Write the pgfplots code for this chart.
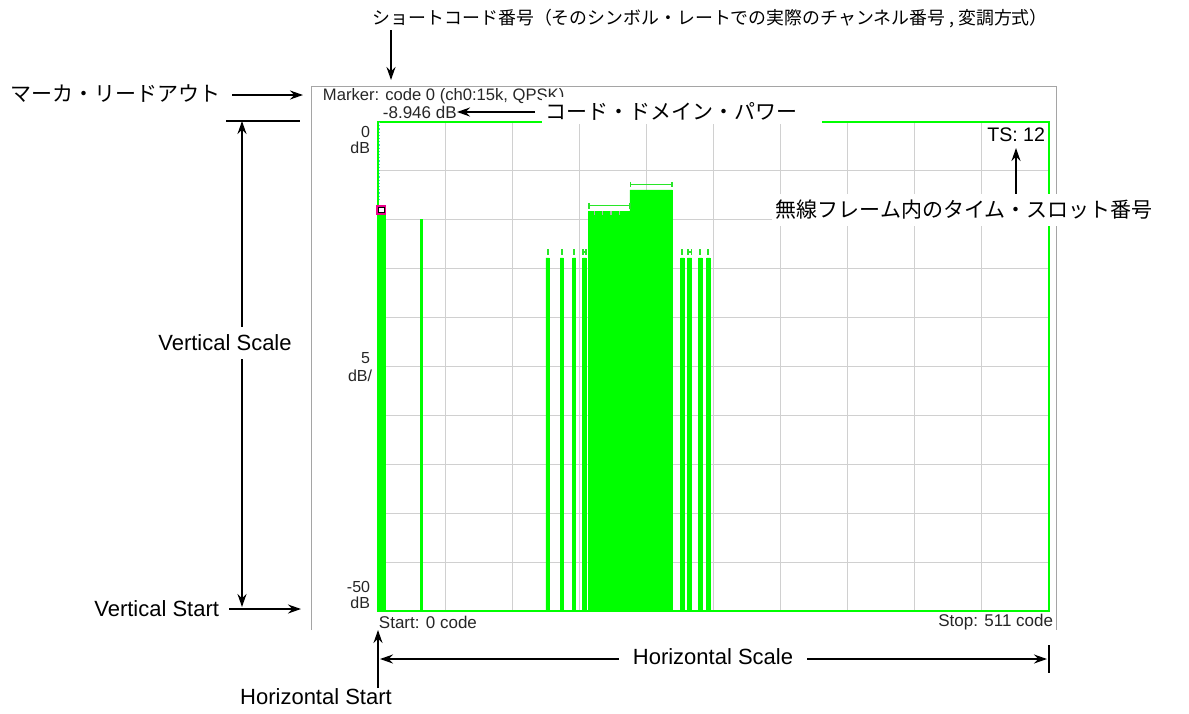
\documentclass[border=0pt]{standalone}
\usepackage{pgfplots}
\pgfplotsset{compat=1.18}
\usetikzlibrary{arrows.meta}
\usepackage{fontspec}
\setmainfont{Liberation Sans}
\newfontfamily\jp{Noto Sans CJK JP}
\definecolor{sgreen}{RGB}{0,255,0}
\definecolor{fgreen}{RGB}{40,230,40}
\definecolor{gridgray}{RGB}{208,208,208}
\definecolor{framegray}{RGB}{165,165,165}
\definecolor{mcyan}{RGB}{80,190,230}
\newcommand\fs[1]{\fontsize{#1}{#1}\selectfont}

\begin{document}
\begin{tikzpicture}
\begin{scope}[x=0.5pt,y=-0.5pt]
\path[use as bounding box] (0,0) rectangle (1189,713);
\draw[framegray, line width=0.5pt] (311.5,630) -- (311.5,86) -- (1056,86) -- (1056,630);
\end{scope}

\begin{axis}[
  at={(189pt,-305.5pt)}, anchor=south west,
  width=335.5pt, height=244.5pt, scale only axis,
  xmin=0, xmax=511, ymin=-50, ymax=0,
  xtick={0,51.1,102.2,153.3,204.4,255.5,306.6,357.7,408.8,459.9,511},
  ytick={-50,-45,-40,-35,-30,-25,-20,-15,-10,-5,0},
  xticklabels={}, yticklabels={},
  grid=major, major grid style={draw=gridgray, line width=0.5pt},
  tick style={draw=none},
  axis line style={draw=sgreen, line width=0.8pt},
]
\addplot[const plot mark left, fill=sgreen, draw=sgreen, line width=0.3pt] coordinates {
(0,-50) (0,-8.946) (5.3,-50) (32,-9.92) (33.5,-50)
(127.9,-13.9) (130.5,-50) (138.6,-13.9) (141.1,-50)
(148.3,-13.9) (150.6,-50) (155.9,-13.9) (158.4,-50)
(160.5,-9.17) (191.9,-6.95) (224.1,-50)
(230.5,-13.9) (233.0,-50) (235.6,-13.9) (238.9,-50)
(244.2,-13.9) (246.8,-50) (250.3,-13.9) (252.9,-50)
(511,-50)} -- cycle;
% range brackets
\addplot[fgreen, line width=0.7pt, mark=|, mark size=1.4pt, mark options={line width=0.8pt}] coordinates {(160.5,-8.56) (191.7,-8.56)};
\addplot[fgreen, line width=0.7pt, mark=|, mark size=1.4pt, mark options={line width=0.8pt}] coordinates {(192.4,-6.41) (224.1,-6.41)};
\addplot[only marks, fgreen, mark=|, mark size=1.5pt, mark options={line width=1.1pt}] coordinates {(129.2,-13.3) (139.85,-13.3) (149.45,-13.3) (231.75,-13.3) (245.5,-13.3) (251.6,-13.3)};
\addplot[fgreen, line width=0.6pt, mark=|, mark size=1.5pt, mark options={line width=0.9pt}] coordinates {(156.1,-13.3) (158.2,-13.3)};
\addplot[fgreen, line width=0.6pt, mark=|, mark size=1.5pt, mark options={line width=0.9pt}] coordinates {(235.8,-13.3) (238.7,-13.3)};
\addplot[only marks, mark=|, mark size=0.9pt, gray!60, mark options={line width=0.6pt}] coordinates {(164.7,-9.3) (171.1,-9.3) (177.4,-9.3) (183.8,-9.3)};
% marker
\addplot[mcyan, densely dotted, line width=0.6pt] coordinates {(1.1,0) (1.1,-8.0)};
\addplot[only marks, mark=square*, mark size=2.1pt, mark options={draw=magenta, fill=white, line width=0.8pt}] coordinates {(2.6,-9.0)};
\addplot[only marks, mark=square, mark size=1.3pt, mark options={draw=black, line width=0.4pt}] coordinates {(2.6,-9.0)};
\end{axis}

\begin{scope}[x=0.5pt,y=-0.5pt, >={Stealth[length=6.5pt,width=4.5pt]}, line width=0.95pt]
% top annotation
\node[anchor=west, inner sep=0] at (372,19) {\jp\fs{8.95pt}ショートコード番号（そのシンボル・レートでの実際のチャンネル番号 , 変調方式）};
\draw[->] (391,30) -- (391,80);
% marker readout
\node[anchor=west, inner sep=0] at (10,94) {\jp\fs{10.5pt}マーカ・リードアウト};
\draw[->] (232,95) -- (303,95);
% vertical scale
\draw (226,121) -- (300,121);
\draw[<->] (242,121) -- (242,607);
\node[fill=white, inner xsep=1pt, inner ysep=4pt] at (225,343) {\fs{11pt}Vertical Scale};
\node[anchor=east, inner sep=0] at (220,609) {\fs{11pt}Vertical Start};
\draw[->] (229,609) -- (301,609);
% horizontal scale
\draw[<->] (380,659) -- (1047,659);
\draw (1049,645) -- (1049,673);
\draw[->] (378,688) -- (378,630);
\node[fill=white, inner xsep=7pt, inner ysep=2pt] at (713,657) {\fs{11pt}Horizontal Scale};
\node at (316,697) {\fs{11pt}Horizontal Start};
% instrument texts
\node[anchor=west, inner sep=0, text=black!85] at (322,96) {\fs{8.3pt}Marker: code 0 (ch0:15k, QPSK)};
\node[anchor=west, inner sep=0, text=black!85] at (382,112) {\fs{8.5pt}-8.946 dB};
\fill[white] (542,97) rectangle (822,123.6);
\node[anchor=west, inner sep=0] at (545,111) {\jp\fs{10.5pt}コード・ドメイン・パワー};
\draw[->] (535,112) -- (457,112);
\node[anchor=east, inner sep=0] at (1046,135) {\fs{9.8pt}TS: 12};
\draw[->] (1016,195) -- (1016,148);
\node[fill=white, anchor=west, inner xsep=2pt, inner ysep=3pt] at (771,210) {\jp\fs{10.5pt}無線フレーム内のタイム・スロット番号};
% axis labels
\node[anchor=east, inner sep=0, text=black!85] at (371,132) {\fs{8pt}0};
\node[anchor=east, inner sep=0, text=black!85] at (371,148) {\fs{8pt}dB};
\node[anchor=east, inner sep=0, text=black!85] at (371,358) {\fs{8pt}5};
\node[anchor=east, inner sep=0, text=black!85] at (373,376) {\fs{8pt}dB/};
\node[anchor=east, inner sep=0, text=black!85] at (371,587) {\fs{8pt}-50};
\node[anchor=east, inner sep=0, text=black!85] at (371,603) {\fs{8pt}dB};
\node[anchor=west, inner sep=0, text=black!85] at (378,622) {\fs{8.5pt}Start: 0 code};
\node[anchor=east, inner sep=0, text=black!85] at (1054,622) {\fs{8.5pt}Stop: 511 code};
\end{scope}
\end{tikzpicture}
\end{document}
